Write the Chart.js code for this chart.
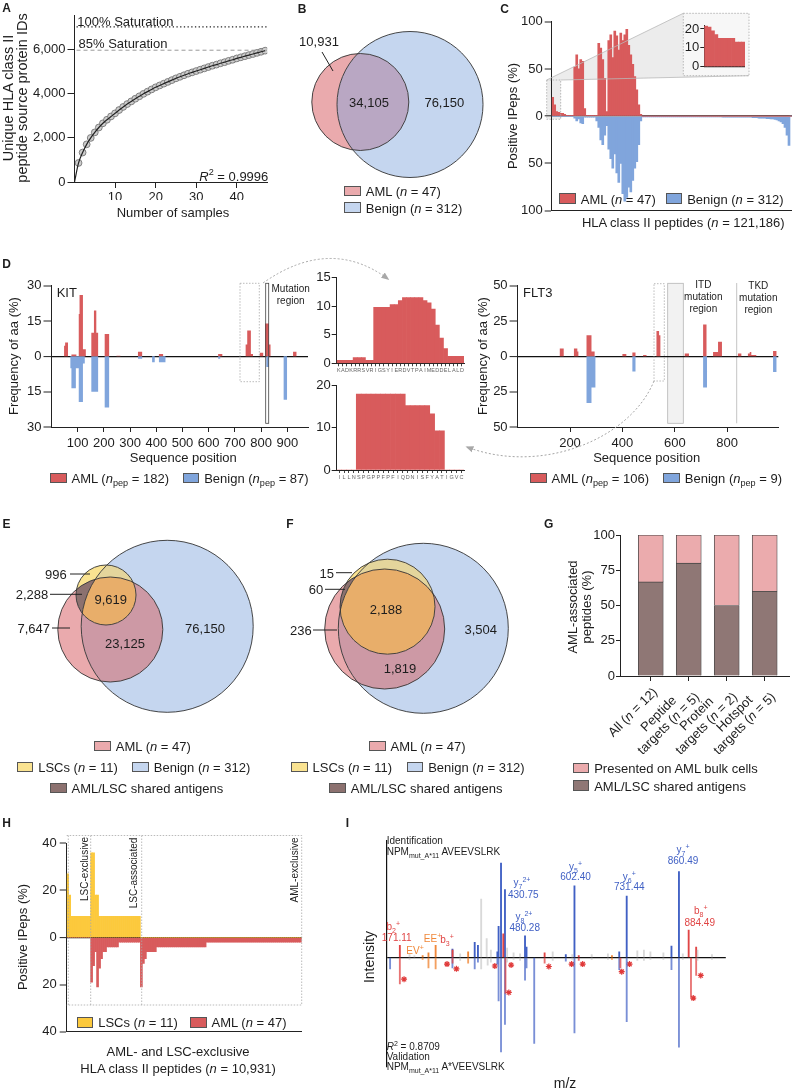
<!DOCTYPE html>
<html lang="en">
<head>
<meta charset="UTF-8">
<title>HLA class II ligandome of AML</title>
<script src="https://cdn.jsdelivr.net/npm/chart.js"></script>
<style>
  body { margin: 0; background: #fff; }
  #fig { position: relative; width: 792px; height: 1089px; overflow: hidden; font-family: "Liberation Sans", Arial, sans-serif; color: #1d1d1d; }
  #fig canvas { position: absolute; z-index: 1; }
  .t { position: absolute; white-space: nowrap; line-height: 1; font-size: 13px; z-index: 6; }
  .t sub, .t sup { font-size: 70%; line-height: 0; }
  .rl { position: absolute; white-space: nowrap; font-size: 13px; line-height: 14px; text-align: center; z-index: 6; transform-origin: 100% 0; }
  .box { position: absolute; width: 16.5px; height: 10.5px; border: 1px solid #555; box-sizing: border-box; z-index: 6; }
  svg { position: absolute; left: 0; top: 0; }
</style>
</head>
<body>
<div id="fig">
  <svg id="bg" width="792" height="1089" style="z-index:0">
    <polygon points="546.7,80 683.3,13.3 749,13.3 749,75.7 560.7,80" fill="#ececec"/>
    <rect x="546.7" y="80" width="14" height="39.3" fill="#ececec"/>
    <rect x="683.3" y="13.3" width="65.7" height="62.4" fill="#f7f7f7"/>
    <rect x="667.7" y="283.3" width="15.6" height="140" fill="#f2f2f2" stroke="#b5b5b5" stroke-width="0.8"/>
    <line x1="736.7" y1="283" x2="736.7" y2="423.3" stroke="#c4c4c4" stroke-width="1"/>
  </svg>
  <svg id="fg" width="792" height="1089" style="z-index:5">
    <defs>
      <marker id="ah" viewBox="0 0 10 10" refX="8" refY="5" markerWidth="8" markerHeight="8" orient="auto">
        <path d="M0,1 L10,5 L0,9 z" fill="#a8a8a8"/>
      </marker>
    </defs>
    <g fill="none" stroke="#a9a9a9" stroke-width="0.8" stroke-dasharray="1.5,1.5">
      <rect x="546.7" y="80" width="14" height="39.3"/>
      <rect x="683.3" y="13.3" width="65.7" height="62.4"/>
      <rect x="240" y="283.3" width="19.3" height="98.4"/>
      <rect x="654" y="283.7" width="10.3" height="97.3"/>
      <polyline points="66.7,835.5 301.7,835.5 301.7,1005 66.7,1005"/>
      <line x1="68.3" y1="835.5" x2="68.3" y2="1005"/>
      <line x1="90.7" y1="835.5" x2="90.7" y2="1005"/>
      <line x1="141.7" y1="835.5" x2="141.7" y2="1005"/>
    </g>
    <g stroke="#b9b9b9" stroke-width="0.8">
      <line x1="546.7" y1="80" x2="683.3" y2="13.3"/>
      <line x1="560.7" y1="80" x2="749" y2="75.7"/>
    </g>
    <g fill="none" stroke="#a5a5a5" stroke-width="1" stroke-dasharray="2,2">
      <path d="M263,283 Q330,236 388,279" marker-end="url(#ah)"/>
      <path d="M654,381 C630,440 540,475 467,447" marker-end="url(#ah)"/>
    </g>
    <rect x="265.7" y="283.3" width="3" height="140" fill="none" stroke="#444" stroke-width="0.8"/>
    <g stroke="#222" stroke-width="1">
      <line x1="322" y1="52" x2="333" y2="71"/>
      <line x1="70" y1="574" x2="90" y2="574"/>
      <line x1="50" y1="594.3" x2="82" y2="594.3"/>
      <line x1="52" y1="628" x2="70" y2="628"/>
      <line x1="336" y1="572.7" x2="352" y2="572.7"/>
      <line x1="325" y1="589.3" x2="345" y2="589.3"/>
      <line x1="313" y1="630" x2="337" y2="630"/>
    </g>
  </svg>
</div>

<script>
// ---------- data ----------
// A: saturation curve
const aSamples = [1,2,3,4,5,6,7,8,9,10,11,12,13,14,15,16,17,18,19,20,21,22,23,24,25,26,27,28,29,30,31,32,33,34,35,36,37,38,39,40,41,42,43,44,45,46,47];
const aProteinIds = [860,1330,1700,1990,2240,2460,2650,2810,2960,3100,
  3250,3390,3520,3640,3760,3870,3980,4080,4180,4275,
  4360,4440,4520,4600,4680,4750,4820,4890,4950,5010,
  5070,5130,5190,5250,5300,5360,5410,5470,5520,5580,
  5630,5680,5730,5780,5830,5880,5930];
const aSaturation = [7000, 5950]; // 100 % and 85 %
const aTicksY = [0, 2000, 4000, 6000];
const aTicksX = [10, 20, 30, 40];

// B: Venn counts
const vennB = ['10,931', '34,105', '76,150'];

// C: positive IPeps per peptide bin (AML up, benign down)
const cAml = [20,12,5,4,3,3,2,1,1,1,
  1,52,65,50,60,58,8,1,1,1,
  1,1,1,77,72,60,40,5,80,86,
  62,90,85,70,88,80,86,92,75,65,
  55,42,28,12,2,0,0,0,0,0,
  0,0,0,0,0,0,0,0,0,0,
  0,0,0,0,0,0,0,0,0,0,
  0,0,0,0,0,0,0,0,0,0,
  0,0,0,0,0,0,0,0,0,0,
  0,0,0,0,0,0,0,0,0,0,
  0,0,0,0,0,0,0,0,0,0,
  0,0,0,0,0,0,0,0,0,0];
const cBenign = [0,0,0,0,0,0,0,0,0,0,
  0,2,5,3,7,8,1,1,1,1,
  1,1,5,12,25,30,20,10,35,45,
  55,40,60,70,50,82,90,86,75,80,
  68,55,48,30,5,0.3,0.3,0.3,0.3,0.3,
  0.3,0.3,0.3,0.3,0.3,0.4,0.4,0.4,0.4,0.4,
  0.4,0.4,0.4,0.5,0.5,0.5,0.5,0.5,0.5,0.5,
  0.6,0.6,0.6,0.6,0.6,0.7,0.7,0.7,0.7,0.7,
  0.8,0.8,0.8,0.8,0.8,0.9,0.9,0.9,0.9,0.9,
  1,1,1,1,1,1,1,1,1,1,
  1.5,1.5,1.5,2,2,2,2,2.5,2.5,3,
  3,3.5,4,5,6,8,12,20,31,0];
const cInset = [21.5,21,19,17,15,15,15,15,15,13,13,13];
const cTicks = [-100, -50, 0, 50, 100];

// D: amino acid frequency, segments [from, to, %]
const kitAml = [[49,53,4.5],[53,64,5.9],[77,96,0.8],[105,108,18],[108,121,26],[121,132,3],[153,163,10],[163,172,19.5],[172,179,10],[204,221,9.5],[249,264,0.3],[331,347,2],[411,427,1],[637,653,1],[742,748,5],[748,762,11],[762,770,1],[796,809,1.5],[816,831,14],[831,837,5],[923,936,2]];
const kitBenign = [[73,77,5],[77,94,13.5],[94,105,5],[105,121,19.4],[121,128,3],[153,179,15],[204,221,21.7],[331,347,1],[385,395,2.5],[411,436,2.5],[637,645,1],[821,831,4.5],[887,900,18.4]];
const flt3Aml = [[162,177,5.6],[216,229,5.6],[229,233,3.5],[264,283,15],[283,295,3.5],[401,416,1.6],[439,451,2.8],[480,493,1],[531,541,18],[541,546,15],[639,655,2],[709,722,22.5],[747,766,3],[766,781,10.3],[842,855,2],[880,887,2],[887,893,3],[893,912,1],[976,989,3.7]];
const flt3Benign = [[264,283,33],[283,298,22],[439,451,10.8],[709,724,22],[976,989,11]];
const kitLength = 979, flt3Length = 995;
const kitTicksX = [100,200,300,400,500,600,700,800,900];
const flt3TicksX = [200,400,600,800];
const kitInsetSeq = 'KADKRRSVRIGSYIERDVTPAIMEDDELALD'.split('');
const kitInsetAml = [0.5,0.5,0.5,0.5,1,1,1,0.5,0.5,9.8,9.8,9.8,9.8,10.3,10.3,11,11.5,11.5,11.5,11.5,11.5,11,10.6,9.5,6.7,4.4,2.6,1.2,1.2,1.2,1.2];
const flt3InsetSeq = 'ILLNSPGPPFPFIQDNISFYATIGVC'.split('');
const flt3InsetAml = [0,0,0,0,18,18,18,18,18,18,18,18,18,18,15.3,15.3,15.3,15.3,15.3,13.3,9.3,9.3,0,0,0,0];

// E, F: Venn counts
const vennE = { lscOnly: '996', shared: '2,288', triple: '9,619', amlOnly: '7,647', amlBenign: '23,125', benignOnly: '76,150' };
const vennF = { lscOnly: '15', shared: '60', triple: '2,188', amlOnly: '236', amlBenign: '1,819', benignOnly: '3,504' };

// G: AML-associated peptides (%)
const gCats = [['All (<i>n</i> = 12)'], ['Peptide', 'targets (<i>n</i> = 5)'], ['Protein', 'targets (<i>n</i> = 2)'], ['Hotspot', 'targets (<i>n</i> = 5)']];
const gShared = [66.7, 80, 50, 60];
const gBulk = [33.3, 20, 50, 40];

// H: AML- and LSC-exclusive peptides, binned
const hLsc = [27,18,9,9,9,9,9,9,9,9,
  9,9,36,36,18,18,9,9,9,9,
  9,9,9,9,9,9,9,9,9,9,
  9,9,9,9,9,9,9,0,0,0,
  0,0,0,0,0,0,0,0,0,0,
  0,0,0,0,0,0,0,0,0,0,
  0,0,0,0,0,0,0,0,0,0,
  0,0,0,0,0,0,0,0,0,0,
  0,0,0,0,0,0,0,0,0,0,
  0,0,0,0,0,0,0,0,0,0,
  0,0,0,0,0,0,0,0,0,0,
  0,0,0,0,0,0,0,0];
const hAml = [0,0,0,0,0,0,0,0,0,0,
  0,0,19,12,6,21,13,9,6,6,
  4,4,4,4,4,4,2,2,2,2,
  2,2,2,2,2,2,2,21,11,9,
  6,6,6,6,6,4,4,4,4,4,
  4,4,4,4,4,4,4,4,4,4,
  4,4,4,4,4,4,4,4,4,4,
  2,2,2,2,2,2,2,2,2,2,
  2,2,2,2,2,2,2,2,2,2,
  2,2,2,2,2,2,2,2,2,2,
  2,2,2,2,2,2,2,2,2,2,
  2,2,2,2,2,2,2,2];
const hTicks = [-40, -20, 0, 20, 40];

// I: mirror spectrum, m/z with identification (up) and validation (down) intensities
const iBlueMz = [147, 301, 356, 364, 412, 415, 421, 430.75, 480.28, 484, 503, 581, 602.40, 713, 731.44, 842, 860.49];
const iBlueId = [0, 9, 16, 13, 6, 33, 100, 72, 23, 11, 0, 3, 76, 6, 65, 12, 91];
const iBlueVal = [12, 11, 12, 5, 7, 46, 100, 71, 24, 11, 91, 4, 80, 13, 68, 13, 95];
const iRedMz = [171.11, 301.3, 426.6, 432, 528.7, 613, 716, 884.49, 890.2, 903];
const iRedId = [13, 8, 25, 0, 5, 2, 0, 29, 0, 11];
const iRedVal = [28, 6, 0, 38, 6, 3, 11, 0, 42, 19];
const iOrangeMz = [227.4, 241.8, 259.5, 339.8, 695];
const iOrangeId = [2, 5, 13, 6, 2];
const iOrangeVal = [2, 11, 12, 6, 2];
const iGrayMz = [195, 207, 320, 372, 385.6, 388, 396, 436, 452, 468, 548.7, 597, 645, 685, 757.7, 774, 790, 822, 870, 906.3, 942];
const iGrayId = [3, 2, 4, 62, 20, 0, 8, 10, 5, 4, 6, 3, 3, 4, 7, 8, 6, 5, 4, 8, 3];
const iGrayVal = [2, 1, 3, 12, 0, 8, 5, 5, 2, 3, 3, 2, 2, 2, 3, 3, 2, 2, 2, 3, 2];
const iStarMz = [181.5, 287.6, 310.9, 405.7, 445.9, 440.3, 539.1, 595.4, 622.7, 719.1, 738.4, 895.8, 914.3];
const iStarVal = [23, 7, 12, 9, 8, 37, 9.5, 7, 7, 15, 7, 43, 19];

// ---------- colours ----------
const RED = '#d85b5c', BLUE = '#80a5dc', YEL = '#fcc93c';
const V_PINK = '#eaaaad', V_BLUE = '#c5d6ef', V_YEL = '#fae391', V_BROWN = '#8c716f';
const G_PINK = '#ebabad', G_BROWN = '#8f7775';
const FONT = '"Liberation Sans", Arial, sans-serif';

Chart.defaults.font.family = FONT;
Chart.defaults.font.size = 13;
Chart.defaults.color = '#1d1d1d';
Chart.defaults.animation = false;
Chart.defaults.responsive = false;
Chart.defaults.maintainAspectRatio = false;
Chart.defaults.plugins.legend.display = false;
Chart.defaults.plugins.tooltip.enabled = false;

const fig = document.getElementById('fig');

function T(html, x, y, o = {}) {
  const d = document.createElement('div');
  d.className = 't';
  d.innerHTML = html;
  const a = o.a || 'l';
  const tx = a === 'l' ? '0' : a === 'c' ? '-50%' : '-100%';
  d.style.left = x + 'px';
  d.style.top = y + 'px';
  if (o.s) d.style.fontSize = o.s + 'px';
  if (o.b) d.style.fontWeight = 'bold';
  if (o.c) d.style.color = o.c;
  d.style.transform = 'translate(' + tx + ',-50%)' + (o.r ? ' rotate(' + o.r + 'deg)' : '');
  fig.appendChild(d);
}

function L(x, y, color, html) {
  const b = document.createElement('div');
  b.className = 'box';
  b.style.left = x + 'px';
  b.style.top = (y - 5.25) + 'px';
  b.style.background = color;
  fig.appendChild(b);
  T(html, x + 21.5, y);
}

// place a chart so its plot area lands on the given page rectangle
function makeChart(area, yW, xH, padT, padR, cfg) {
  const left = Math.floor(area.l - yW), top = Math.floor(area.t - padT);
  const w = Math.ceil(area.r + padR) - left, h = Math.ceil(area.b + xH) - top;
  const c = document.createElement('canvas');
  c.width = w; c.height = h;
  c.style.left = left + 'px'; c.style.top = top + 'px';
  c.style.width = w + 'px'; c.style.height = h + 'px';
  fig.appendChild(c);
  const o = cfg.options = cfg.options || {};
  o.layout = { padding: { left: 0, top: area.t - top, right: left + w - area.r, bottom: 0 } };
  const sc = o.scales || {};
  if (sc.y && sc.y.display !== false) sc.y.afterFit = s => { s.width = area.l - left; s.paddingTop = 0; s.paddingBottom = 0; };
  if (sc.x && sc.x.display !== false) sc.x.afterFit = s => { s.height = top + h - area.b; s.paddingLeft = 0; s.paddingRight = 0; };
  return new Chart(c, cfg);
}

function yAxis(min, max, ticks, tickLen, pad, extra) {
  return Object.assign({
    min: min, max: max,
    afterBuildTicks: s => { s.ticks = ticks.map(v => ({ value: v })); },
    border: { display: true, color: '#222', width: 1 },
    grid: { drawOnChartArea: false, tickLength: tickLen, color: '#222', tickColor: '#222', tickWidth: 1 },
    ticks: { padding: pad, autoSkip: false, callback: v => Math.abs(v).toLocaleString('en-US') }
  }, extra || {});
}

function zeroGrid(tickLen, color, width) {
  return {
    drawOnChartArea: true, tickLength: tickLen, tickColor: '#222', tickWidth: 1,
    color: c => c.tick && c.tick.value === 0 ? color : 'rgba(0,0,0,0)',
    lineWidth: c => c.tick && c.tick.value === 0 ? width : 0
  };
}

function profile(segs, len, sign) {
  const pts = [];
  for (let i = 0; i <= len; i++) {
    let v = 0;
    segs.forEach(s => { if (i >= s[0] && i < s[1]) v = Math.max(v, s[2]); });
    pts.push({ x: i, y: sign * v });
  }
  return pts;
}

function vennPlugin(circles, colors) {
  return {
    id: 'venn',
    beforeDatasetsDraw(chart) {
      const ctx = chart.ctx, sx = chart.scales.x, sy = chart.scales.y;
      const cs = circles.map(c => ({
        x: sx.getPixelForValue(c.x), y: sy.getPixelForValue(c.y),
        r: Math.abs(sx.getPixelForValue(c.x + c.r) - sx.getPixelForValue(c.x))
      }));
      for (let m = 1; m < (1 << cs.length); m++) {
        if (!colors[m]) continue;
        ctx.save();
        cs.forEach((c, i) => {
          ctx.beginPath();
          if (!(m & (1 << i))) ctx.rect(0, 0, chart.width, chart.height);
          ctx.arc(c.x, c.y, c.r, 0, Math.PI * 2);
          ctx.clip('evenodd');
        });
        ctx.fillStyle = colors[m];
        ctx.fillRect(0, 0, chart.width, chart.height);
        ctx.restore();
      }
      ctx.save();
      ctx.strokeStyle = '#333';
      ctx.lineWidth = 0.9;
      cs.forEach(c => { ctx.beginPath(); ctx.arc(c.x, c.y, c.r, 0, Math.PI * 2); ctx.stroke(); });
      ctx.restore();
    }
  };
}

function venn(area, circles, colors) {
  return makeChart(area, 0, 0, 0, 0, {
    type: 'scatter',
    data: { datasets: [] },
    options: { scales: {
      x: { display: false, min: area.l, max: area.r },
      y: { display: false, min: area.t, max: area.b, reverse: true }
    } },
    plugins: [vennPlugin(circles, colors)]
  });
}

// ---------- A ----------
makeChart({ l: 74.5, t: 15, r: 271.6, b: 182 }, 74.5, 18, 5, 0, {
  type: 'line',
  data: { datasets: [
    { data: [{ x: 0.5, y: aSaturation[0] }, { x: 47.5, y: aSaturation[0] }], borderColor: '#222', borderWidth: 1.2, borderDash: [1.3, 2.4], pointRadius: 0 },
    { data: [{ x: 0.5, y: aSaturation[1] }, { x: 47.5, y: aSaturation[1] }], borderColor: '#9a9a9a', borderWidth: 1, borderDash: [4, 3], pointRadius: 0 },
    { data: [{ x: 0, y: 0 }].concat(aSamples.map((s, i) => ({ x: s, y: aProteinIds[i] }))), borderColor: '#222', borderWidth: 1.2, pointRadius: 0, cubicInterpolationMode: 'monotone' },
    { data: aSamples.map((s, i) => ({ x: s, y: aProteinIds[i] })), showLine: false, pointRadius: 3.4, pointBackgroundColor: '#cdcdcd', pointBorderColor: '#6a6a6a', pointBorderWidth: 0.8 }
  ] },
  options: { scales: {
    x: { type: 'linear', min: 0, max: 47.5,
      afterBuildTicks: s => { s.ticks = aTicksX.map(v => ({ value: v })); },
      border: { display: true, color: '#222' },
      grid: { drawOnChartArea: false, tickLength: 6, color: '#222' },
      ticks: { padding: 2 } },
    y: yAxis(0, 7540, aTicksY, 7, 2)
  } }
});
T('A', 6.5, 8, { a: 'c', s: 12, b: true });
T('100% Saturation', 77.3, 20.5);
T('85% Saturation', 78.5, 43);
T('<i>R</i><sup>2</sup> = 0.9996', 268.3, 176, { a: 'r' });
T('Number of samples', 173, 212, { a: 'c' });
T('Unique HLA class II', 7.5, 98, { a: 'c', r: -90, s: 14.5 });
T('peptide source protein IDs', 21.7, 98, { a: 'c', r: -90, s: 14.5 });

// ---------- B ----------
venn({ l: 300, t: 25, r: 525, b: 185 },
  [{ x: 360.3, y: 102, r: 48.5 }, { x: 410, y: 104.5, r: 73 }],
  { 1: V_PINK, 2: V_BLUE, 3: '#b9a7c3' });
T('B', 302, 9, { a: 'c', s: 12, b: true });
T(vennB[0], 319, 40.7, { a: 'c' });
T(vennB[1], 369, 101.7, { a: 'c' });
T(vennB[2], 444.3, 101.7, { a: 'c' });
L(344.3, 191.2, V_PINK, 'AML (<i>n</i> = 47)');
L(344.3, 207.5, V_BLUE, 'Benign (<i>n</i> = 312)');

// ---------- C ----------
makeChart({ l: 551.7, t: 21.7, r: 792, b: 210.7 }, 33, 8, 9, 0, {
  type: 'bar',
  data: { labels: cAml.map((_, i) => i), datasets: [
    { data: cAml, backgroundColor: RED },
    { data: cBenign.map(v => -v), backgroundColor: BLUE }
  ] },
  options: {
    datasets: { bar: { grouped: false, barPercentage: 1, categoryPercentage: 1, borderWidth: 0 } },
    scales: {
      x: { ticks: { display: false }, grid: { display: false }, border: { display: true, color: '#222' } },
      y: yAxis(-100, 100, cTicks, 7, 2, { z: 1, grid: zeroGrid(7, '#555', 1.6) })
    }
  }
});
makeChart({ l: 704.3, t: 25.2, r: 745, b: 66.7 }, 22, 8, 6, 0, {
  type: 'bar',
  data: { labels: cInset.map((_, i) => i), datasets: [{ data: cInset, backgroundColor: RED }] },
  options: {
    datasets: { bar: { barPercentage: 1, categoryPercentage: 1, borderWidth: 0 } },
    scales: {
      x: { ticks: { display: false }, grid: { display: false }, border: { display: true, color: '#222', width: 1.2 } },
      y: yAxis(0, 22, [0, 10, 20], 4, 1)
    }
  }
});
T('C', 504.5, 9, { a: 'c', s: 12, b: true });
T('Positive IPeps (%)', 511.7, 116, { a: 'c', r: -90 });
T('HLA class II peptides (<i>n</i> = 121,186)', 683.3, 221.7, { a: 'c' });
L(559.3, 198.7, RED, 'AML (<i>n</i> = 47)');
L(665.7, 198.7, BLUE, 'Benign (<i>n</i> = 312)');

// ---------- D ----------
function seqChart(area, len, ticksX, yMax, yTicks, aml, benign) {
  return makeChart(area, 27, 24, 9, 2, {
    type: 'line',
    data: { datasets: [
      { data: profile(aml, len, 1), stepped: 'after', fill: 'origin', backgroundColor: RED, borderWidth: 0, pointRadius: 0 },
      { data: profile(benign, len, -1), stepped: 'after', fill: 'origin', backgroundColor: BLUE, borderWidth: 0, pointRadius: 0 }
    ] },
    options: { scales: {
      x: { type: 'linear', min: 0, max: len,
        afterBuildTicks: s => { s.ticks = ticksX.map(v => ({ value: v })); },
        border: { display: true, color: '#222' },
        grid: { drawOnChartArea: false, tickLength: 5, color: '#222' },
        ticks: { padding: 4 } },
      y: yAxis(-yMax, yMax, yTicks, 8, 2, { z: 1, grid: zeroGrid(8, '#111', 1.2) })
    } }
  });
}
seqChart({ l: 51.5, t: 285.7, r: 308, b: 427 }, kitLength, kitTicksX, 30, [-30, -15, 0, 15, 30], kitAml, kitBenign);
seqChart({ l: 517.6, t: 285.7, r: 778.3, b: 427 }, flt3Length, flt3TicksX, 50, [-50, -25, 0, 25, 50], flt3Aml, flt3Benign);

function insetChart(area, seq, vals, yMax, yTicks) {
  return makeChart(area, 25, 12, 9, 1, {
    type: 'bar',
    data: { labels: seq, datasets: [{ data: vals, backgroundColor: RED }] },
    options: {
      datasets: { bar: { barPercentage: 1, categoryPercentage: 1, borderWidth: 0 } },
      scales: {
        x: { border: { display: true, color: '#222' },
          grid: { drawOnChartArea: false, offset: false, tickLength: 3, color: '#444' },
          ticks: { autoSkip: false, maxRotation: 0, padding: 1, color: '#666', font: { size: 5.5 } } },
        y: yAxis(0, yMax, yTicks, 5, 1)
      }
    }
  });
}
insetChart({ l: 336.7, t: 277.7, r: 464, b: 363.3 }, kitInsetSeq, kitInsetAml, 15, [0, 5, 10, 15]);
insetChart({ l: 336.7, t: 385.7, r: 464, b: 470 }, flt3InsetSeq, flt3InsetAml, 20, [0, 10, 20]);

T('D', 6.5, 264, { a: 'c', s: 12, b: true });
T('KIT', 56.7, 291.7);
T('FLT3', 523, 291.7);
T('Mutation', 290.7, 289.3, { a: 'c', s: 10 });
T('region', 290.7, 301, { a: 'c', s: 10 });
T('ITD', 703.3, 285, { a: 'c', s: 10 });
T('mutation', 703.3, 297.3, { a: 'c', s: 10 });
T('region', 703.3, 309.3, { a: 'c', s: 10 });
T('TKD', 758.3, 285.7, { a: 'c', s: 10 });
T('mutation', 758.3, 298, { a: 'c', s: 10 });
T('region', 758.3, 310, { a: 'c', s: 10 });
T('Frequency of aa (%)', 13.3, 356, { a: 'c', r: -90 });
T('Frequency of aa (%)', 481.7, 356, { a: 'c', r: -90 });
T('Sequence position', 183.3, 457.3, { a: 'c' });
T('Sequence position', 646.7, 457.3, { a: 'c' });
L(50, 478, RED, 'AML (<i>n</i><sub>pep</sub> = 182)');
L(182.7, 478, BLUE, 'Benign (<i>n</i><sub>pep</sub> = 87)');
L(530, 478, RED, 'AML (<i>n</i><sub>pep</sub> = 106)');
L(663.3, 478, BLUE, 'Benign (<i>n</i><sub>pep</sub> = 9)');

// ---------- E, F ----------
const vennColors3 = { 1: V_PINK, 2: V_YEL, 3: V_BROWN, 4: V_BLUE, 5: '#cd99a5', 6: '#e4d59c', 7: '#e8ae6a' };
venn({ l: 0, t: 530, r: 260, b: 730 },
  [{ x: 110.3, y: 629.5, r: 52.5 }, { x: 106, y: 595, r: 30 }, { x: 167.2, y: 626.3, r: 86 }], vennColors3);
venn({ l: 265, t: 530, r: 525, b: 730 },
  [{ x: 384.7, y: 629, r: 60 }, { x: 387.5, y: 606.7, r: 47.5 }, { x: 423.3, y: 628.3, r: 85 }], vennColors3);

T('E', 6.5, 524, { a: 'c', s: 12, b: true });
T(vennE.lscOnly, 66.7, 574, { a: 'r' });
T(vennE.shared, 48.3, 594.3, { a: 'r' });
T(vennE.triple, 110.7, 599, { a: 'c' });
T(vennE.amlOnly, 50, 627.7, { a: 'r' });
T(vennE.amlBenign, 125, 642.7, { a: 'c' });
T(vennE.benignOnly, 205, 627.7, { a: 'c' });
L(94.3, 746, V_PINK, 'AML (<i>n</i> = 47)');
L(16.7, 767, V_YEL, 'LSCs (<i>n</i> = 11)');
L(132.3, 767, V_BLUE, 'Benign (<i>n</i> = 312)');
L(50, 788, V_BROWN, 'AML/LSC shared antigens');

T('F', 290, 524, { a: 'c', s: 12, b: true });
T(vennF.lscOnly, 334, 572.7, { a: 'r' });
T(vennF.shared, 323.3, 589.3, { a: 'r' });
T(vennF.triple, 386, 609, { a: 'c' });
T(vennF.amlOnly, 311.7, 630, { a: 'r' });
T(vennF.amlBenign, 400, 667.7, { a: 'c' });
T(vennF.benignOnly, 480.7, 629, { a: 'c' });
L(369, 746, V_PINK, 'AML (<i>n</i> = 47)');
L(291, 767, V_YEL, 'LSCs (<i>n</i> = 11)');
L(406.7, 767, V_BLUE, 'Benign (<i>n</i> = 312)');
L(329.3, 788, V_BROWN, 'AML/LSC shared antigens');

// ---------- G ----------
const gChart = makeChart({ l: 620, t: 535, r: 789, b: 676 }, 30, 10, 9, 2, {
  type: 'bar',
  data: { datasets: [
    { data: gShared.map((v, i) => ({ x: i + 1, y: v })), backgroundColor: G_BROWN },
    { data: gBulk.map((v, i) => ({ x: i + 1, y: v })), backgroundColor: G_PINK }
  ] },
  options: {
    datasets: { bar: { barThickness: 25, borderColor: '#444', borderWidth: 0.8 } },
    scales: {
      x: { type: 'linear', min: 0.19, max: 4.64, stacked: true, offset: false,
        afterBuildTicks: s => { s.ticks = gCats.map((_, i) => ({ value: i + 1 })); },
        border: { display: true, color: '#222' },
        grid: { drawOnChartArea: false, offset: false, tickLength: 5, color: '#222' },
        ticks: { display: false } },
      y: yAxis(0, 100, [0, 25, 50, 75, 100], 4, 1, { stacked: true })
    }
  }
});
// rotated category labels, anchored at each tick through the x scale
gCats.forEach((lines, i) => {
  const px = gChart.scales.x.getPixelForValue(i + 1) + parseFloat(gChart.canvas.style.left);
  const d = document.createElement('div');
  d.className = 'rl';
  d.innerHTML = lines.join('<br>');
  d.style.right = (792 - (px + 4)) + 'px';
  d.style.top = '690px';
  d.style.transform = 'rotate(-45deg) translateY(-50%)';
  fig.appendChild(d);
});
T('G', 548.7, 524, { a: 'c', s: 12, b: true });
T('AML-associated', 571.7, 607, { a: 'c', r: -90 });
T('peptides (%)', 586, 607, { a: 'c', r: -90 });
L(572.7, 768, G_PINK, 'Presented on AML bulk cells');
L(572.7, 785.5, G_BROWN, 'AML/LSC shared antigens');

// ---------- H ----------
makeChart({ l: 66.7, t: 843.3, r: 301.7, b: 1031.7 }, 32, 8, 9, 1, {
  type: 'bar',
  data: { labels: hLsc.map((_, i) => i), datasets: [
    { data: hLsc, backgroundColor: YEL },
    { data: hAml.map(v => -v), backgroundColor: RED }
  ] },
  options: {
    datasets: { bar: { grouped: false, barPercentage: 1, categoryPercentage: 1, borderWidth: 0 } },
    scales: {
      x: { ticks: { display: false }, grid: { display: false }, border: { display: true, color: '#222' } },
      y: yAxis(-40, 40, hTicks, 7, 3, { z: 1, grid: zeroGrid(7, '#111', 1.2) })
    }
  }
});
T('H', 6.5, 823.3, { a: 'c', s: 12, b: true });
T('Positive IPeps (%)', 21.7, 937, { a: 'c', r: -90 });
T('LSC-exclusive', 85, 869, { a: 'c', r: -90, s: 10 });
T('LSC-associated', 134, 873, { a: 'c', r: -90, s: 10 });
T('AML-exclusive', 295, 870, { a: 'c', r: -90, s: 10 });
L(76.7, 1022.3, YEL, 'LSCs (<i>n</i> = 11)');
L(190, 1022.3, RED, 'AML (<i>n</i> = 47)');
T('AML- and LSC-exclusive', 178, 1051, { a: 'c' });
T('HLA class II peptides (<i>n</i> = 10,931)', 178, 1067.5, { a: 'c' });

// ---------- I ----------
function peaks(mz, vals, sign) {
  return mz.map((m, i) => ({ x: m, y: sign * vals[i] })).filter(p => p.y !== 0);
}
makeChart({ l: 382.7, t: 835, r: 730.7, b: 1072 }, 1, 0, 0, 0, {
  type: 'bar',
  data: { datasets: [
    { data: peaks(iGrayMz, iGrayId, 1), backgroundColor: 'rgba(185,185,185,0.55)' },
    { data: peaks(iGrayMz, iGrayVal, -1), backgroundColor: 'rgba(185,185,185,0.55)' },
    { data: peaks(iOrangeMz, iOrangeId, 1), backgroundColor: '#f0883a' },
    { data: peaks(iOrangeMz, iOrangeVal, -1), backgroundColor: 'rgba(240,136,58,0.8)' },
    { data: peaks(iRedMz, iRedId, 1), backgroundColor: '#e04545' },
    { data: peaks(iRedMz, iRedVal, -1), backgroundColor: 'rgba(224,69,69,0.75)' },
    { data: peaks(iBlueMz, iBlueId, 1), backgroundColor: '#4060c4' },
    { data: peaks(iBlueMz, iBlueVal, -1), backgroundColor: 'rgba(64,96,196,0.7)' },
    { type: 'scatter', data: peaks(iStarMz, iStarVal, -1), pointStyle: 'star', pointRadius: 3, borderColor: '#e03a3a', borderWidth: 1.2, backgroundColor: '#e03a3a' }
  ] },
  options: {
    datasets: { bar: { grouped: false, barThickness: 1.2, borderWidth: 0 } },
    scales: {
      x: { type: 'linear', display: false, offset: false, min: 137.4, max: 976.2 },
      y: { min: -115.8, max: 124.3, z: 1,
        afterBuildTicks: s => { s.ticks = [{ value: 0 }]; },
        border: { display: true, color: '#111', width: 1.2 },
        grid: { drawTicks: false, color: c => c.tick && c.tick.value === 0 ? '#111' : 'rgba(0,0,0,0)', lineWidth: 1.3 },
        ticks: { display: false } }
    }
  }
});
const IB = '#4060c4', IR = '#e04545', IO = '#f0883a';
T('I', 347.5, 823.3, { a: 'c', s: 12, b: true });
T('Identification', 386.7, 840.5, { s: 10 });
T('NPM<sub>mut_A*11</sub> AVEEVSLRK', 386.7, 852, { s: 10 });
T('<i>R</i><sup>2</sup> = 0.8709', 386.7, 1046.5, { s: 10 });
T('Validation', 386.7, 1057, { s: 10 });
T('NPM<sub>mut_A*11</sub> A*VEEVSLRK', 386.7, 1067, { s: 10 });
T('Intensity', 369.3, 957, { a: 'c', r: -90, s: 14 });
T('m/z', 565, 1083, { a: 'c', s: 14 });
T('y<sub>7</sub><sup>+</sup>', 683, 850, { a: 'c', s: 10, c: IB });
T('860.49', 683, 861, { a: 'c', s: 10, c: IB });
T('y<sub>5</sub><sup>+</sup>', 575.5, 866.5, { a: 'c', s: 10, c: IB });
T('602.40', 575.5, 876.5, { a: 'c', s: 10, c: IB });
T('y<sub>6</sub><sup>+</sup>', 629.3, 876.5, { a: 'c', s: 10, c: IB });
T('731.44', 629.3, 887, { a: 'c', s: 10, c: IB });
T('y<sub>7</sub><sup>2+</sup>', 522, 882.5, { a: 'c', s: 10, c: IB });
T('430.75', 523.3, 894.5, { a: 'c', s: 10, c: IB });
T('y<sub>8</sub><sup>2+</sup>', 524, 916.5, { a: 'c', s: 10, c: IB });
T('480.28', 524.7, 928, { a: 'c', s: 10, c: IB });
T('b<sub>8</sub><sup>+</sup>', 700.7, 910.5, { a: 'c', s: 10, c: IR });
T('884.49', 699.7, 922.5, { a: 'c', s: 10, c: IR });
T('b<sub>2</sub><sup>+</sup>', 393.3, 927, { a: 'c', s: 10, c: IR });
T('171.11', 396.7, 938, { a: 'c', s: 10, c: IR });
T('EV<sup>+</sup>', 415, 950.5, { a: 'c', s: 10, c: IO });
T('EE<sup>+</sup>', 432.5, 939, { a: 'c', s: 10, c: IO });
T('b<sub>3</sub><sup>+</sup>', 447, 940, { a: 'c', s: 10, c: IR });
</script>
</body>
</html>
